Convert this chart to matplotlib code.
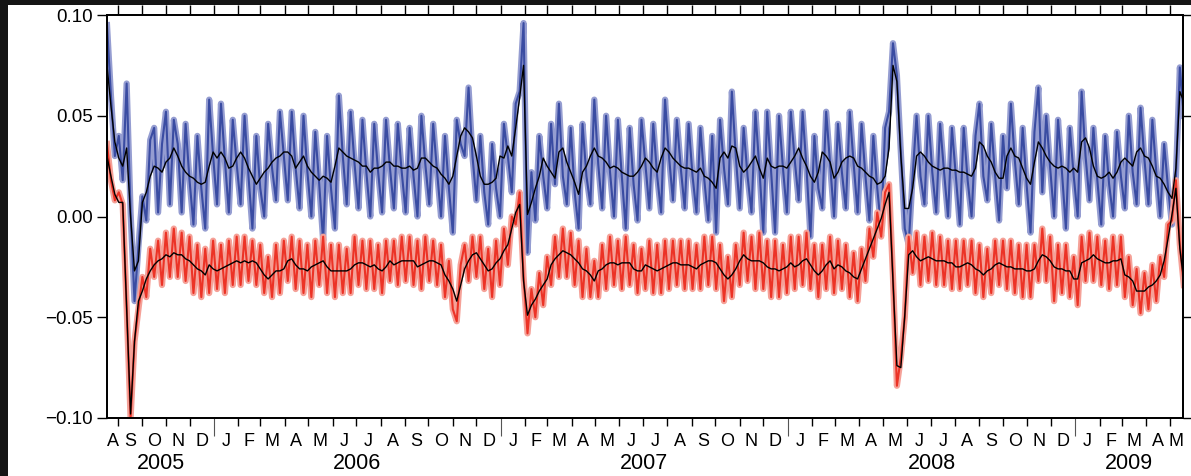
import numpy as np
import matplotlib
matplotlib.use("Agg")
import matplotlib.pyplot as plt
import matplotlib.dates as mdates
from matplotlib.patches import Rectangle
from datetime import datetime

plt.rcParams['font.family'] = ['Liberation Sans', 'DejaVu Sans']

# samples every 5 days starting 2005-08-18, values in units of 1e-3
start = np.datetime64('2005-08-18')
step_days = 5

blue_mean = [
    75, 55, 37, 29, 25, 34, 0, -27, -22, 7, 12, 20, 25, 24, 22, 27, 29, 34, 30, 25, 22, 20, 19, 17, 16, 17, 25, 32, 29, 32, 29, 24, 25, 29, 32, 29, 24, 20, 16, 19, 22, 24, 27, 29, 30, 32,
    32, 30, 24, 27, 30, 25, 22, 20, 18, 20, 19, 17, 25, 34, 32, 30, 29, 28, 27, 25, 25, 22, 24, 24, 25, 27, 27, 25, 25, 24, 24, 25, 23, 24, 29, 29, 27, 25, 24, 21, 19, 16, 20, 30, 40, 44,
    42, 39, 30, 20, 16, 16, 17, 19, 30, 29, 35, 30, 44, 59, 75, 1, 7, 14, 20, 29, 25, 22, 19, 32, 34, 27, 22, 17, 11, 22, 25, 30, 34, 30, 29, 27, 24, 25, 24, 22, 21, 20, 20, 22, 25,
    29, 27, 24, 22, 29, 34, 32, 29, 27, 25, 24, 24, 23, 22, 24, 20, 19, 17, 14, 29, 32, 29, 35, 34, 25, 22, 24, 27, 30, 24, 19, 29, 25, 24, 25, 25, 24, 27, 30, 34, 29, 25, 20, 17, 22, 32,
    30, 27, 19, 22, 27, 29, 30, 29, 25, 24, 22, 20, 19, 16, 17, 20, 34, 75, 67, 30, 4, 4, 14, 30, 32, 30, 27, 25, 24, 23, 24, 24, 23, 23, 22, 22, 21, 20, 24, 37, 35, 30, 27, 22, 19, 19,
    30, 34, 30, 29, 24, 19, 16, 27, 37, 34, 30, 27, 25, 24, 25, 24, 22, 24, 22, 37, 39, 34, 25, 20, 19, 20, 22, 19, 22, 27, 29, 27, 25, 32, 34, 30, 29, 25, 20, 19, 16, 12, 9, 24, 62, 57,
]
blue = [
    95, 60, 30, 40, 18, 66, 2, -42, -15, 10, -2, 38, 44, 2, 36, 52, 6, 48, 36, 2, 46, 18, -4, 40, 14, -6, 58, 30, 6, 56, 28, 2, 48, 26, 6, 50, 20, -6, 40, 14, 0, 46, 24, 8, 52, 30,
    8, 52, 24, 4, 50, 22, 0, 42, 16, -12, 40, 14, -6, 60, 30, 6, 52, 26, 4, 48, 22, 0, 46, 22, 2, 48, 24, 4, 46, 22, 2, 44, 20, 0, 50, 26, 6, 46, 22, 0, 40, 14, -8, 48, 36, 30,
    64, 30, 8, 40, 12, -4, 36, 14, 0, 46, 30, 12, 56, 62, 96, -18, 22, -2, 40, 20, 4, 46, 16, 56, 20, 6, 44, 12, -6, 46, 20, 6, 58, 26, 4, 50, 22, 0, 48, 20, -6, 44, 16, -2, 48,
    26, 4, 46, 20, 2, 58, 30, 8, 48, 24, 4, 46, 20, 2, 44, 18, -2, 40, -8, 48, 24, 6, 62, 30, 4, 44, 20, 2, 52, 24, -8, 52, 22, -8, 50, 24, 2, 52, 28, 8, 52, 24, -10, 40, 14, 4,
    52, 26, 0, 46, 22, 4, 52, 26, 2, 46, 20, -2, 40, 14, -6, 44, 52, 86, 70, 32, -6, -14, 20, 50, 20, 6, 50, 22, 2, 46, 22, 0, 44, 20, -4, 44, 18, 0, 40, 56, 20, 8, 46, 20, -2, 40,
    14, 56, 28, 6, 44, 16, -8, 42, 64, 12, 50, 24, 0, 48, 22, -6, 44, 20, 0, 62, 30, 8, 44, 18, -4, 40, 16, 0, 42, 20, 4, 50, 22, 6, 54, 28, 6, 48, 22, 0, 36, 14, -4, 20, 74, 50,
]
red_mean = [
    30, 20, 11, 7, 7, -45, -98, -62, -42, -37, -31, -27, -24, -22, -21, -19, -20, -18, -19, -19, -21, -22, -24, -26, -27, -29, -24, -26, -27, -26, -25, -24, -23, -22, -23, -22, -23, -22, -23, -26, -29, -31, -29, -27, -27, -26,
    -22, -21, -24, -26, -26, -27, -25, -24, -23, -22, -25, -27, -27, -27, -27, -27, -26, -24, -23, -23, -24, -25, -24, -26, -27, -25, -22, -24, -23, -22, -22, -22, -22, -25, -24, -23, -22, -22, -23, -24, -29, -32, -36, -42, -34, -26,
    -22, -19, -18, -21, -24, -27, -26, -23, -21, -17, -14, -6, 2, 6, -32, -49, -44, -41, -37, -34, -31, -24, -21, -19, -17, -18, -19, -21, -23, -26, -27, -29, -32, -27, -26, -24, -23, -23, -24, -23, -23, -23, -26, -27, -27,
    -24, -25, -26, -27, -26, -25, -24, -23, -23, -24, -24, -24, -25, -26, -24, -23, -22, -22, -23, -26, -29, -31, -29, -26, -22, -19, -21, -22, -22, -22, -23, -25, -26, -26, -27, -26, -25, -23, -25, -24, -22, -21, -24, -27, -29, -27,
    -24, -22, -26, -24, -25, -27, -28, -30, -31, -26, -21, -16, -11, -6, -1, 6, 12, -32, -74, -75, -49, -19, -17, -20, -22, -21, -20, -21, -22, -22, -22, -23, -23, -25, -25, -24, -23, -24, -26, -27, -29, -27, -26, -24, -23, -24,
    -25, -25, -26, -26, -26, -27, -27, -26, -22, -19, -20, -22, -25, -26, -26, -27, -27, -31, -31, -23, -22, -21, -19, -21, -22, -23, -23, -22, -22, -21, -29, -30, -32, -37, -37, -37, -35, -34, -32, -29, -22, -11, 1, 14, -16, -32,
]
red = [
    36, 18, 8, 12, 6, -45, -100, -62, -46, -30, -40, -16, -30, -12, -34, -8, -30, -6, -30, -8, -32, -10, -38, -14, -40, -16, -38, -12, -36, -14, -38, -12, -34, -10, -34, -10, -32, -12, -34, -14, -38, -20, -40, -14, -38, -12,
    -32, -10, -36, -12, -38, -14, -40, -12, -34, -10, -38, -14, -40, -14, -38, -16, -38, -10, -34, -12, -36, -12, -36, -14, -38, -12, -32, -12, -34, -10, -32, -10, -34, -12, -36, -10, -32, -12, -34, -14, -40, -22, -46, -52, -24, -14,
    -32, -10, -30, -10, -36, -16, -40, -12, -34, -6, -24, 0, -4, 12, -30, -58, -36, -50, -28, -44, -20, -34, -10, -30, -6, -30, -8, -34, -12, -40, -16, -40, -22, -40, -14, -36, -10, -34, -12, -36, -10, -34, -14, -38, -16,
    -36, -12, -38, -14, -38, -12, -36, -12, -34, -12, -36, -12, -36, -14, -36, -10, -34, -10, -36, -14, -42, -20, -40, -14, -34, -8, -32, -10, -36, -8, -36, -12, -40, -12, -40, -14, -38, -10, -36, -10, -34, -8, -36, -14, -40, -14,
    -36, -10, -38, -12, -36, -14, -40, -18, -42, -16, -32, -6, -20, 2, -10, 12, 16, -30, -84, -70, -50, -10, -28, -8, -34, -10, -32, -8, -34, -10, -34, -12, -36, -12, -36, -12, -34, -12, -38, -14, -40, -16, -38, -12, -34, -12,
    -36, -12, -38, -14, -40, -14, -40, -14, -32, -6, -32, -10, -42, -14, -38, -14, -40, -20, -44, -10, -32, -8, -32, -10, -34, -12, -36, -10, -34, -10, -40, -20, -44, -26, -48, -28, -46, -24, -42, -20, -30, -4, -2, 18, -14, -34,
]

month_letters = 'JFMAMJJASOND'
years = [2005, 2006, 2007, 2008, 2009]

t = start + np.arange(len(blue)) * np.timedelta64(step_days, 'D')
tn = mdates.date2num(t)
b = np.array(blue) * 1e-3
bm = np.array(blue_mean) * 1e-3
r = np.array(red) * 1e-3
rm = np.array(red_mean) * 1e-3

fig = plt.figure(figsize=(11.91, 4.76), dpi=100)
fig.patch.set_facecolor('#151515')
fig.add_artist(Rectangle((8 / 1191, 0), 1, 1 - 5 / 476, transform=fig.transFigure,
                         facecolor='white', edgecolor='none', zorder=-5))
ax = fig.add_axes([107 / 1191, 1 - 418 / 476, 1076 / 1191, 403 / 476])

# blue band
ax.plot(tn, b, color='#959dd1', lw=4.5, solid_joinstyle='round')
ax.fill_between(tn, bm, b, color='#4153a8', lw=0)
ax.plot(tn, b, color='#3a4ca2', lw=1.5)
# red band
ax.plot(tn, r, color='#f5a198', lw=4.5, solid_joinstyle='round')
ax.fill_between(tn, rm, r, color='#ee3a2c', lw=0)
ax.plot(tn, r, color='#ec3326', lw=1.5)
# means
ax.plot(tn, bm, color='black', lw=1.0)
ax.plot(tn, rm, color='black', lw=1.0)

x0 = mdates.date2num(np.datetime64('2005-08-18'))
x1 = mdates.date2num(np.datetime64('2009-05-18'))
ax.set_xlim(x0, x1)
ax.set_ylim(-0.1, 0.1)

ax.set_yticks([-0.1, -0.05, 0.0, 0.05, 0.1])
ax.set_yticklabels(['\u22120.10', '\u22120.05', '0.00', '0.05', '0.10'])
ax.tick_params(axis='y', which='both', direction='out', length=7, width=1.0,
               left=True, right=True, labelsize=13.5, pad=3)

ax.xaxis.set_major_locator(mdates.YearLocator())
ax.xaxis.set_minor_locator(mdates.MonthLocator(bymonth=range(2, 13)))
ax.xaxis.set_major_formatter(plt.NullFormatter())
ax.tick_params(axis='x', which='major', direction='out', length=13, width=0.8, color='#555555')
ax.tick_params(axis='x', which='minor', direction='out', length=6, width=1.0)

top = ax.twiny()
top.set_xlim(x0, x1)
top.xaxis.set_major_locator(mdates.MonthLocator())
top.xaxis.set_major_formatter(plt.NullFormatter())
top.tick_params(axis='x', direction='out', length=7, width=1.0)

for a in (ax, top):
    for s in a.spines.values():
        s.set_linewidth(1.3)

tr = ax.get_xaxis_transform()
for y in years:
    ys = mdates.date2num(datetime(y, 1, 1))
    ye = mdates.date2num(datetime(y + 1, 1, 1))
    lo, hi = max(ys, x0), min(ye, x1)
    if hi > lo:
        ax.text((lo + hi) / 2, -0.114, str(y), transform=tr, ha='center', va='center', fontsize=15.5)
    for m in range(1, 13):
        ms = mdates.date2num(datetime(y, m, 1))
        me = mdates.date2num(datetime(y + (m == 12), m % 12 + 1, 1))
        lo, hi = max(ms, x0), min(me, x1)
        if hi - lo > 5:
            ax.text((lo + hi) / 2, -0.059, month_letters[m - 1], transform=tr,
                    ha='center', va='center', fontsize=13)

fig.savefig('out.png', dpi=100, facecolor=fig.get_facecolor())
